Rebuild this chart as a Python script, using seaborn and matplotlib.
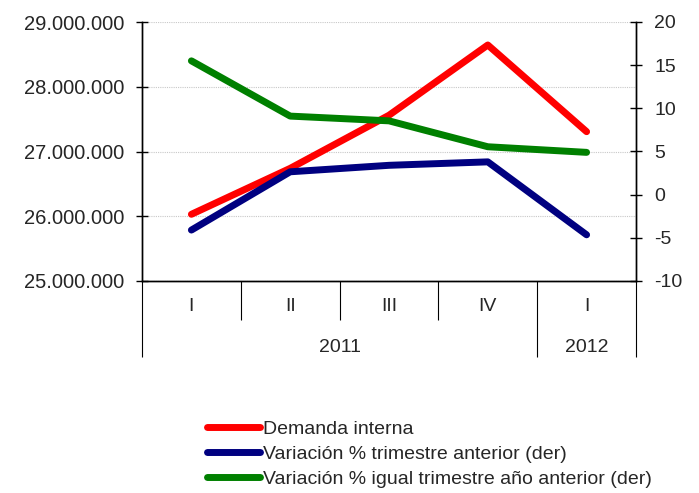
import matplotlib
matplotlib.use("Agg")
import matplotlib.pyplot as plt
import matplotlib.ticker as mticker
from matplotlib.lines import Line2D
import seaborn as sns
import pandas as pd

quarters = ["I", "II", "III", "IV", "I"]
years = ["2011", "2012"]
year_bounds = [(-0.5, 3.5), (3.5, 4.5)]  # x-range covered by each year

demanda = [26030000, 26740000, 27560000, 28645000, 27306000]
var_trim = [-4.1, 2.65, 3.4, 3.8, -4.65]
var_anual = [15.5, 9.1, 8.55, 5.55, 4.9]

labels = [
    "Demanda interna",
    "Variación % trimestre anterior (der)",
    "Variación % igual trimestre año anterior (der)",
]
colors = ["#ff0000", "#000080", "#008000"]

sns.set_style("white")
plt.rcParams["font.family"] = ["Liberation Sans", "DejaVu Sans"]
plt.rcParams["font.size"] = 14
plt.rcParams["axes.unicode_minus"] = False

df = pd.DataFrame({
    "pos": range(len(quarters)),
    "demanda": demanda,
    "var_trim": var_trim,
    "var_anual": var_anual,
})

fig = plt.figure(figsize=(6.99, 4.93), dpi=100)
W, H = 699, 493
ax = fig.add_axes([142 / W, 1 - 281 / H, (636 - 142) / W, (281 - 22) / H])
ax2 = ax.twinx()

lw = 5
sns.lineplot(data=df, x="pos", y="demanda", ax=ax, color=colors[0], lw=lw,
             solid_capstyle="round", zorder=3)
sns.lineplot(data=df, x="pos", y="var_trim", ax=ax2, color=colors[1], lw=lw,
             solid_capstyle="round")
sns.lineplot(data=df, x="pos", y="var_anual", ax=ax2, color=colors[2], lw=lw,
             solid_capstyle="round")

# left axis
ax.set_ylim(25000000, 29000000)
ax.set_yticks(range(25000000, 29000001, 1000000))
ax.yaxis.set_major_formatter(mticker.FuncFormatter(lambda v, p: f"{int(v):,}".replace(",", ".")))
ax.yaxis.grid(True, color="#c8c8c8", linestyle=(0, (1, 1)), linewidth=0.8)
ax.set_axisbelow(True)
ax.tick_params(axis="y", direction="inout", length=8, width=1, color="black",
               labelsize=14.5, pad=9, left=True)
ax.set_ylabel("")

# right axis
ax2.set_ylim(-10, 20)
ax2.set_yticks(range(-10, 21, 5))
ax2.tick_params(axis="y", direction="inout", length=8, width=1, color="black",
                labelsize=14, pad=9, right=True)
ax2.set_ylabel("")

# x axis: category separators
ax.set_xlim(-0.5, len(quarters) - 0.5)
ax.set_xlabel("")
ax.set_xticks([-0.5, 3.5, 4.5])
ax.set_xticks([0.5, 1.5, 2.5], minor=True)
ax.set_xticklabels([])
ax.tick_params(axis="x", which="major", direction="out", length=55, width=0.8,
               color="black", bottom=True)
ax.tick_params(axis="x", which="minor", direction="out", length=28, width=0.8,
               color="black", bottom=True)

for a in (ax, ax2):
    for s in ("left", "right", "bottom"):
        a.spines[s].set_color("black")
        a.spines[s].set_linewidth(1)
    a.spines["top"].set_visible(False)

trans = ax.get_xaxis_transform()
for i, q in enumerate(quarters):
    ax.text(i, -25.5 / 259, q, transform=trans, ha="center", va="center", fontsize=14)
for y, (a, b) in zip(years, year_bounds):
    ax.text((a + b) / 2, -67 / 259, y, transform=trans,
            ha="center", va="center", fontsize=14)

handles = [Line2D([0], [0], color=c, lw=lw, solid_capstyle="round") for c in colors]
fig.legend(handles, labels, loc="upper left", bbox_to_anchor=(207 / W, 1 - 420 / H),
           frameon=False, fontsize=14, handlelength=2.7, handletextpad=0.2,
           labelspacing=0.38, borderpad=0, borderaxespad=0)

fig.savefig("out.png", dpi=100)
